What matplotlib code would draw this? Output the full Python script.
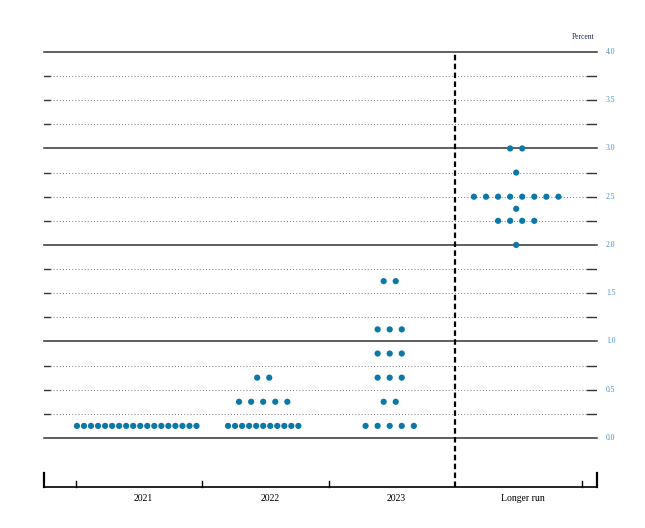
import numpy as np
import matplotlib
matplotlib.use("Agg")
import matplotlib.pyplot as plt

# dot plot data: midpoint of target range and number of participants
years = ["2021", "2022", "2023", "Longer run"]
rates_2021 = [0.125]
counts_2021 = [18]
rates_2022 = [0.125, 0.375, 0.625]
counts_2022 = [11, 5, 2]
rates_2023 = [0.125, 0.375, 0.625, 0.875, 1.125, 1.625]
counts_2023 = [5, 2, 3, 3, 3, 2]
rates_lr = [2.0, 2.25, 2.375, 2.5, 2.75, 3.0]
counts_lr = [1, 4, 1, 8, 1, 2]
ytick_vals = [0.0, 0.5, 1.0, 1.5, 2.0, 2.5, 3.0, 3.5, 4.0]

dot_color = "#0b78a8"
label_color = "#4a8fd0"
serif = ["Liberation Serif", "DejaVu Serif"]

fig = plt.figure(figsize=(6.45, 5.28), dpi=100)
ax = fig.add_axes([0.0682, 0.0777, 0.8574, 0.8239])
x0, x1 = -0.753, 3.619
ax.set_xlim(x0, x1)
ax.set_ylim(-0.508, 4.0)

# horizontal grid lines
for v in np.arange(0, 4.01, 0.25):
    if abs(v - round(v)) < 1e-9:
        ax.plot([x0, x1], [v, v], color="#333333", lw=1.1, zorder=1, clip_on=False)
    else:
        ax.plot([x0, x0 + 0.05], [v, v], color="#333333", lw=1.0, zorder=1)
        ax.plot([x0 + 0.05, x1 - 0.08], [v, v], color="#777777", lw=0.7,
                linestyle=(0, (1, 2.2)), zorder=1)
        ax.plot([x1 - 0.08, x1], [v, v], color="#333333", lw=1.0, zorder=1)

# dots
groups = [(rates_2021, counts_2021), (rates_2022, counts_2022),
          (rates_2023, counts_2023), (rates_lr, counts_lr)]
for i, (rates, counts) in enumerate(groups):
    for r, n in zip(rates, counts):
        step = 0.0556 if n >= 10 else 0.0954
        xs = i - 0.02 + (np.arange(n) - (n - 1) / 2) * step
        ax.scatter(xs, [r] * n, s=20, color=dot_color, edgecolors="none", zorder=3)

# dashed separator before longer run
ax.plot([2.496, 2.496], [-0.508, 4.0], color="black", lw=1.6,
        linestyle=(0, (2.5, 1.5)), zorder=2, clip_on=False)

# bottom axis with ticks
for s in ["top", "right", "left"]:
    ax.spines[s].set_visible(False)
ax.spines["bottom"].set_linewidth(1.2)
ax.set_yticks([])
ax.set_xticks([])
for i, name in enumerate(years):
    ax.text(i + 0.035, -0.63, name, fontsize=7, family=serif,
            ha="center", va="center")
for b in [x0, x1]:
    ax.plot([b, b], [-0.508, -0.363], color="black", lw=1.6, clip_on=False)
for b in [-0.5, 0.5, 1.5, 3.5]:
    ax.plot([b, b], [-0.508, -0.446], color="black", lw=1.0, clip_on=False)

# right-hand labels
for v in ytick_vals:
    ax.text(1.016, v, "%.1f" % v, transform=ax.get_yaxis_transform(),
            fontsize=5.5, color=label_color, family=serif, va="center", ha="left")
ax.text(0.975, 4.155, "Percent", transform=ax.get_yaxis_transform(),
        fontsize=5.5, color="#1a2a5a", family=serif, va="center", ha="center")

fig.savefig("out.png", dpi=100)
